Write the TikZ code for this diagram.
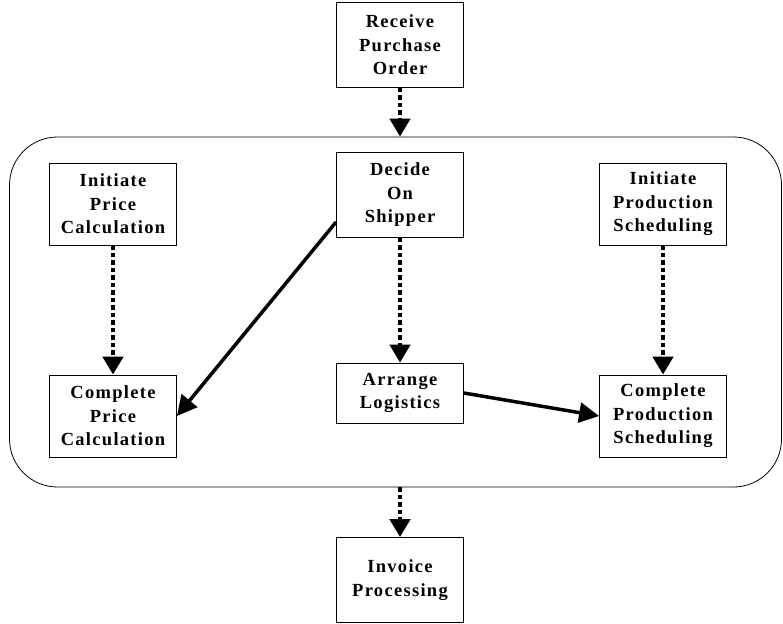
\documentclass[tikz,border=0pt]{standalone}
\usepackage{fontspec}
\setmainfont{Liberation Serif}[LetterSpace=7]
\usetikzlibrary{arrows.meta}

\begin{document}
\begin{tikzpicture}[x=1pt,y=-1pt,semithick,
                    font=\fontsize{18.5}{23.5}\selectfont\bfseries]
  \tikzstyle{task}=[rectangle,draw=black,line width=0.8pt,fill=white,align=center,
                    minimum width=127pt,minimum height=85pt,inner sep=2pt]
  \tikzstyle{wait}=[line width=4.5pt,dash pattern=on 4.5pt off 3pt,
                    -{Triangle[width=20pt,length=18pt]}]
  \tikzstyle{flow}=[line width=3.5pt,-{Triangle[width=20pt,length=20pt]}]

  \useasboundingbox (0,0) rectangle (783,623);

  \node[draw,line width=0.8pt,rounded corners=48pt,minimum width=772pt,minimum height=350pt]
        (P) at (395.5,312) {};

  \node[task] (R)   at (400,45)  {Receive\\Purchase\\Order};
  \node[task,minimum height=82pt] (IP)  at (113,204) {Initiate\\Price\\Calculation};
  \node[task] (D)   at (400,195) {Decide\\On\\Shipper};
  \node[task,minimum height=82pt] (IS)  at (663,204) {Initiate\\Production\\Scheduling};
  \node[task,minimum height=82pt] (CP)  at (113,416) {Complete\\Price\\Calculation};
  \node[task,minimum height=60pt] (A)   at (400,393) {Arrange\\Logistics};
  \node[task,minimum height=82pt] (CS)  at (663,416) {Complete\\Production\\Scheduling};
  \node[task] (I)   at (400,580) {Invoice\\Processing};

  \path
(R.south) edge [wait] (R.south |- P.north)
(IP) edge [wait] (CP)
(D) edge [wait] (A)
(IS) edge [wait] (CS)
(I.north |- P.south) edge [wait] (I.north)
([yshift=-27pt]D.west) edge [flow] (CP.east)
(A.east) edge [flow] (CS.west);
\end{tikzpicture}
\end{document}
